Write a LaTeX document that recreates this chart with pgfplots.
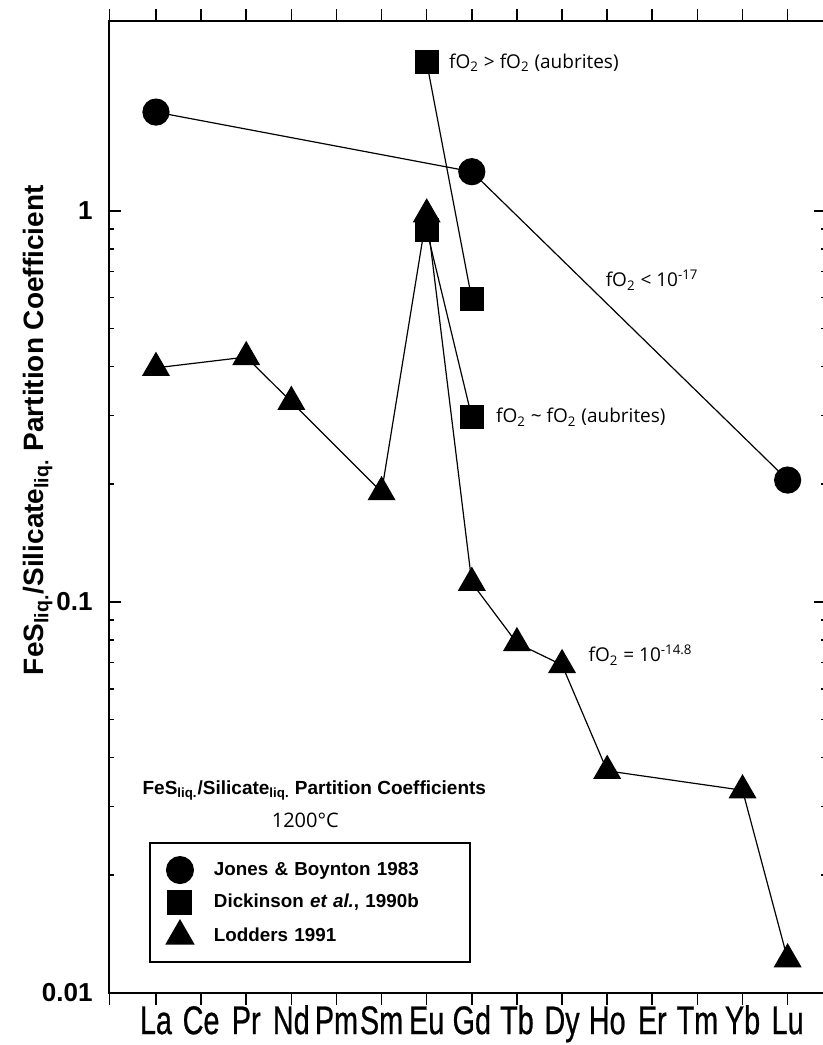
\documentclass[border=0pt]{standalone}
\usepackage{fontspec}
\setmainfont{Liberation Sans}
\newfontfamily\annfont{Open Sans}
\newfontfamily\condfont[FakeStretch=0.72,FakeBold=0.6]{Liberation Sans}
\usepackage{pgfplots}
\pgfplotsset{compat=1.18}

\begin{document}
\begin{tikzpicture}
\useasboundingbox (-54.75pt,-26pt) rectangle (356.75pt,496.5pt);
\begin{axis}[
  at={(0,0)}, anchor=south west,
  scale only axis, width=358.25pt, height=486pt,
  ymode=log, ymin=0.01, ymax=3.06,
  xmin=-1.03, xmax=14.85,
  axis line style={line width=1pt},
  xtick={-1.03,0,1,2,3,4,5,6,7,8,9,10,11,12,13,14},
  xticklabels={,La,Ce,Pr,Nd,Pm,Sm,Eu,Gd,Tb,Dy,Ho,Er,Tm,Yb,Lu},
  xtick align=outside, ytick align=inside,
  xtick pos=both, ytick pos=both,
  xticklabel pos=lower, yticklabel pos=left,
  major tick length=6pt, minor tick length=2.5pt,
  tick style={black, line width=0.8pt},
  minor tick style={black, line width=0.8pt},
  xticklabel style={font=\condfont\fontsize{20}{20}\selectfont, inner ysep=0pt, text height=14.4pt, text depth=0pt, anchor=north},
  ytick={0.01,0.1,1},
  yticklabels={\textbf{0.01},\textbf{0.1},\textbf{1}},
  yticklabel style={font=\bfseries\fontsize{13}{13}\selectfont, inner xsep=8.25pt},
  ylabel={FeS\textsubscript{liq.}/Silicate\textsubscript{liq.} Partition Coefficient},
  ylabel style={at={(axis description cs:-0.0998,0.579)}, anchor=center, font=\bfseries\fontsize{14}{16}\selectfont},
  legend image code/.code={\draw[#1] plot coordinates {(0pt,0pt)}; \path[draw=none,fill=none] (-8pt,-6pt) rectangle (8pt,6pt);},
  legend cell align=left,
  legend style={at={(0.0551,0.1553)}, anchor=north west, draw=black, line width=1pt,
    inner xsep=7pt, inner ysep=7pt, row sep=3.5pt, column sep=8pt,
    font=\bfseries\fontsize{9.4}{11}\selectfont,
    nodes={inner sep=1pt, text height=7pt, text depth=2pt, text width=120pt}},
]
\addlegendimage{black, mark=*, mark size=6.5pt, mark options={fill=black}}
\addlegendentry{Jones \& Boynton 1983}
\addlegendimage{black, mark=square*, mark size=5.75pt, mark options={fill=black}}
\addlegendentry{Dickinson \textit{et al.}, 1990b}
\addlegendimage{black, mark=triangle*, mark size=7.5pt, mark options={fill=black}}
\addlegendentry{Lodders 1991}

% Jones & Boynton 1983
\addplot[forget plot, black, line width=0.6pt, mark=*, mark size=6.5pt, mark options={fill=black}]
  coordinates {(0,1.79) (7,1.26) (14,0.205)};
% Dickinson et al. 1990b
\addplot[forget plot, black, line width=0.6pt, mark=square*, mark size=5.75pt, mark options={fill=black}]
  coordinates {(6,2.40) (7,0.595)};
\addplot[forget plot, black, line width=0.6pt, mark=square*, mark size=5.75pt, mark options={fill=black}]
  coordinates {(6,0.894) (7,0.297)};
% Lodders 1991
\addplot[forget plot, black, line width=0.6pt, mark=triangle*, mark size=7.5pt, mark options={fill=black}]
  coordinates {(0,0.397) (2,0.423) (3,0.325) (5,0.191) (6,0.98) (7,0.112) (8,0.0785) (9,0.069) (10,0.037) (13,0.033) (14,0.0122)};

\node[anchor=west, inner sep=0pt, font=\annfont\fontsize{9.5}{11}\selectfont] at (axis cs:6.49,2.39) {fO\textsubscript{2} > fO\textsubscript{2} (aubrites)};
\node[anchor=west, inner sep=0pt, font=\annfont\fontsize{9.5}{11}\selectfont] at (axis cs:7.53,0.297) {fO\textsubscript{2} \textasciitilde{} fO\textsubscript{2} (aubrites)};
\node[anchor=west, inner sep=0pt, font=\annfont\fontsize{9.5}{11}\selectfont] at (axis cs:9.96,0.666) {fO\textsubscript{2} < 10\textsuperscript{-17}};
\node[anchor=west, inner sep=0pt, font=\annfont\fontsize{9.5}{11}\selectfont] at (axis cs:9.58,0.0732) {fO\textsubscript{2} = 10\textsuperscript{-14.8}};
\node[font=\bfseries\fontsize{9.5}{11}\selectfont] at (axis cs:3.51,0.0330) {FeS\textsubscript{liq.}/Silicate\textsubscript{liq.} Partition Coefficients};
\node[font=\annfont\fontsize{10}{12}\selectfont] at (axis cs:3.31,0.0277) {1200°C};
\end{axis}
\end{tikzpicture}
\end{document}
